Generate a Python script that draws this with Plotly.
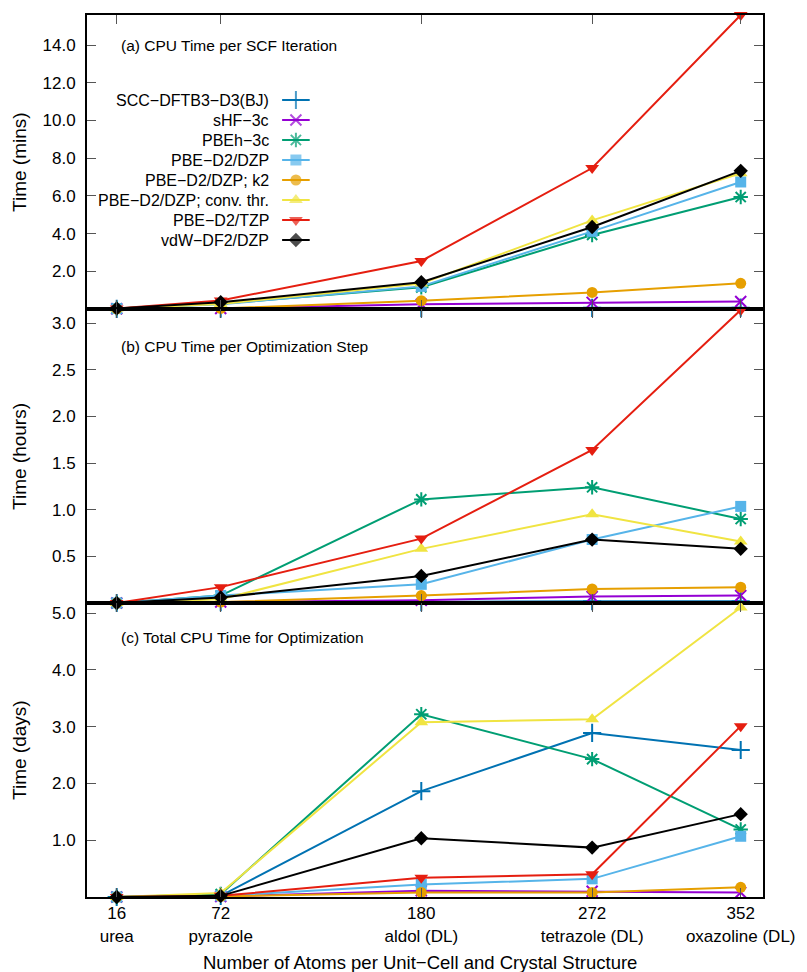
import plotly.graph_objects as go

# Unit-cell sizes (atoms) and crystal structures
atoms = [16, 72, 180, 272, 352]
structures = ["urea", "pyrazole", "aldol (DL)", "tetrazole (DL)", "oxazoline (DL)"]

methods = ["SCC−DFTB3−D3(BJ)", "sHF−3c", "PBEh−3c", "PBE−D2/DZP", "PBE−D2/DZP; k2",
           "PBE−D2/DZP; conv. thr.", "PBE−D2/TZP", "vdW−DF2/DZP"]

# (a) CPU time per SCF iteration, minutes
scf_scc = [0.01, 0.02, 0.04, 0.06, 0.07]
scf_shf = [0.01, 0.03, 0.25, 0.35, 0.40]
scf_pbeh = [0.02, 0.28, 1.15, 3.93, 5.94]
scf_dzp = [0.02, 0.25, 1.20, 4.12, 6.74]
scf_k2 = [0.01, 0.03, 0.44, 0.88, 1.36]
scf_conv = [0.02, 0.27, 1.35, 4.70, 7.20]
scf_tzp = [0.03, 0.45, 2.55, 7.48, 15.6]
scf_vdw = [0.03, 0.36, 1.42, 4.35, 7.33]

# (b) CPU time per optimization step, hours
opt_scc = [0.0, 0.01, 0.01, 0.02, 0.02]
opt_shf = [0.0, 0.01, 0.03, 0.07, 0.08]
opt_pbeh = [0.0, 0.08, 1.11, 1.24, 0.90]
opt_dzp = [0.0, 0.08, 0.20, 0.68, 1.035]
opt_k2 = [0.0, 0.01, 0.08, 0.15, 0.17]
opt_conv = [0.0, 0.04, 0.58, 0.95, 0.66]
opt_tzp = [0.0, 0.17, 0.69, 1.64, 3.14]
opt_vdw = [0.0, 0.06, 0.29, 0.68, 0.58]

# (c) total CPU time for optimization, days
tot_scc = [0.0, 0.02, 1.865, 2.89, 2.59]
tot_shf = [0.0, 0.01, 0.11, 0.10, 0.08]
tot_pbeh = [0.0, 0.05, 3.22, 2.43, 1.19]
tot_dzp = [0.0, 0.02, 0.22, 0.32, 1.07]
tot_k2 = [0.0, 0.01, 0.08, 0.08, 0.17]
tot_conv = [0.0, 0.07, 3.08, 3.13, 5.10]
tot_tzp = [0.0, 0.02, 0.34, 0.40, 3.01]
tot_vdw = [0.0, 0.02, 1.035, 0.87, 1.46]

panels = [
    ("x", "y", [scf_scc, scf_shf, scf_pbeh, scf_dzp, scf_k2, scf_conv, scf_tzp, scf_vdw]),
    ("x2", "y2", [opt_scc, opt_shf, opt_pbeh, opt_dzp, opt_k2, opt_conv, opt_tzp, opt_vdw]),
    ("x3", "y3", [tot_scc, tot_shf, tot_pbeh, tot_dzp, tot_k2, tot_conv, tot_tzp, tot_vdw]),
]

colors = ["#0072b2", "#9400d3", "#009e73", "#56b4e9", "#e69f00", "#f0e442", "#e51e10", "#000000"]
symbols = ["cross-thin", "x-thin", "asterisk", "square", "circle", "triangle-up", "triangle-down", "diamond"]
sizes = [13, 11, 12, 11, 11, 12, 12, 11]

FONT = "Liberation Sans, Arial, sans-serif"

fig = go.Figure()

for xa, ya, series in panels:
    for i, vals in enumerate(series):
        thin = symbols[i] in ("cross-thin", "x-thin", "asterisk")
        fig.add_trace(go.Scatter(
            x=atoms, y=vals, xaxis=xa, yaxis=ya, mode="lines+markers",
            line=dict(color=colors[i], width=2),
            marker=dict(symbol=symbols[i], size=sizes[i], color=colors[i],
                        line=dict(color=colors[i], width=2 if thin else 0)),
            cliponaxis=False, showlegend=False, name=methods[i],
        ))

# Key in panel (a): right-justified labels with line samples to their right
key_x = [285, 299, 313]
for i, name in enumerate(methods):
    ky = 100 + 20 * i
    thin = symbols[i] in ("cross-thin", "x-thin", "asterisk")
    fig.add_trace(go.Scatter(
        x=key_x, y=[ky, ky, ky], xaxis="x4", yaxis="y4", mode="lines+markers",
        line=dict(color=colors[i], width=2),
        marker=dict(symbol=symbols[i], size=[0, sizes[i], 0], color=colors[i],
                    line=dict(color=colors[i], width=2 if thin else 0)),
        cliponaxis=False, showlegend=False, hoverinfo="skip",
    ))
    fig.add_annotation(x=274, y=ky, xref="x4", yref="y4", text=name, showarrow=False,
                       xanchor="right", yanchor="middle", font=dict(size=16, color="#000"))

domains = [[2 / 3, 1.0], [1 / 3, 2 / 3], [0.0, 1 / 3]]
yranges = [[0, 15.6], [0, 3.15], [0, 5.18]]
yticks = [[2, 4, 6, 8, 10, 12, 14], [0.5, 1.0, 1.5, 2.0, 2.5, 3.0], [1, 2, 3, 4, 5]]

axis_common = dict(showline=True, linewidth=2, linecolor="black", mirror="ticks",
                   ticks="inside", ticklen=9, tickwidth=1, tickcolor="#555",
                   showgrid=False, zeroline=False, tickfont=dict(size=17))

layout = dict(
    width=807, height=972,
    margin=dict(l=87, r=34, t=15, b=75),
    paper_bgcolor="white", plot_bgcolor="rgba(0,0,0,0)",
    font=dict(family=FONT, size=16, color="black"),
    showlegend=False,
)
for k, (xa, ya, _) in enumerate(panels):
    xname = "xaxis" if k == 0 else f"xaxis{k + 1}"
    yname = "yaxis" if k == 0 else f"yaxis{k + 1}"
    layout[xname] = dict(axis_common, domain=[0, 1], range=[0, 364], anchor=ya,
                         tickvals=atoms,
                         ticktext=[f"{a}<br>{s}" for a, s in zip(atoms, structures)],
                         showticklabels=(k == 2))
    layout[yname] = dict(axis_common, domain=domains[k], range=yranges[k], anchor=xa,
                         tickvals=yticks[k], tickformat=".1f", ticklabelstandoff=6)

# Pixel-space axes for the key
layout["xaxis4"] = dict(domain=[0, 1], range=[87, 773], anchor="y4", visible=False, fixedrange=True)
layout["yaxis4"] = dict(domain=[2 / 3, 1.0], range=[309, 15], anchor="x4", visible=False, fixedrange=True)

fig.update_layout(**layout)

# Panel titles
titles = ["(a) CPU Time per SCF Iteration", "(b) CPU Time per Optimization Step",
          "(c) Total CPU Time for Optimization"]
title_y = [0.895, 0.874, 0.881]
ylabels = ["Time (mins)", "Time (hours)", "Time (days)"]
for k in range(3):
    dom = "y domain" if k == 0 else f"y{k + 1} domain"
    xdom = "x domain" if k == 0 else f"x{k + 1} domain"
    fig.add_annotation(x=0.047, y=title_y[k], xref=xdom, yref=dom, text=titles[k],
                       showarrow=False, xanchor="left", yanchor="middle", font=dict(size=15.5))
    fig.add_annotation(x=-0.1006, y=0.5, xref="paper", yref=dom, text=ylabels[k],
                       textangle=-90, showarrow=False, xanchor="center", yanchor="middle",
                       font=dict(size=19))

fig.add_annotation(x=0.493, y=-0.0737, xref="paper", yref="paper",
                   text="Number of Atoms per Unit−Cell and Crystal Structure",
                   showarrow=False, xanchor="center", yanchor="middle", font=dict(size=18.5))

fig.write_html("out.html")
